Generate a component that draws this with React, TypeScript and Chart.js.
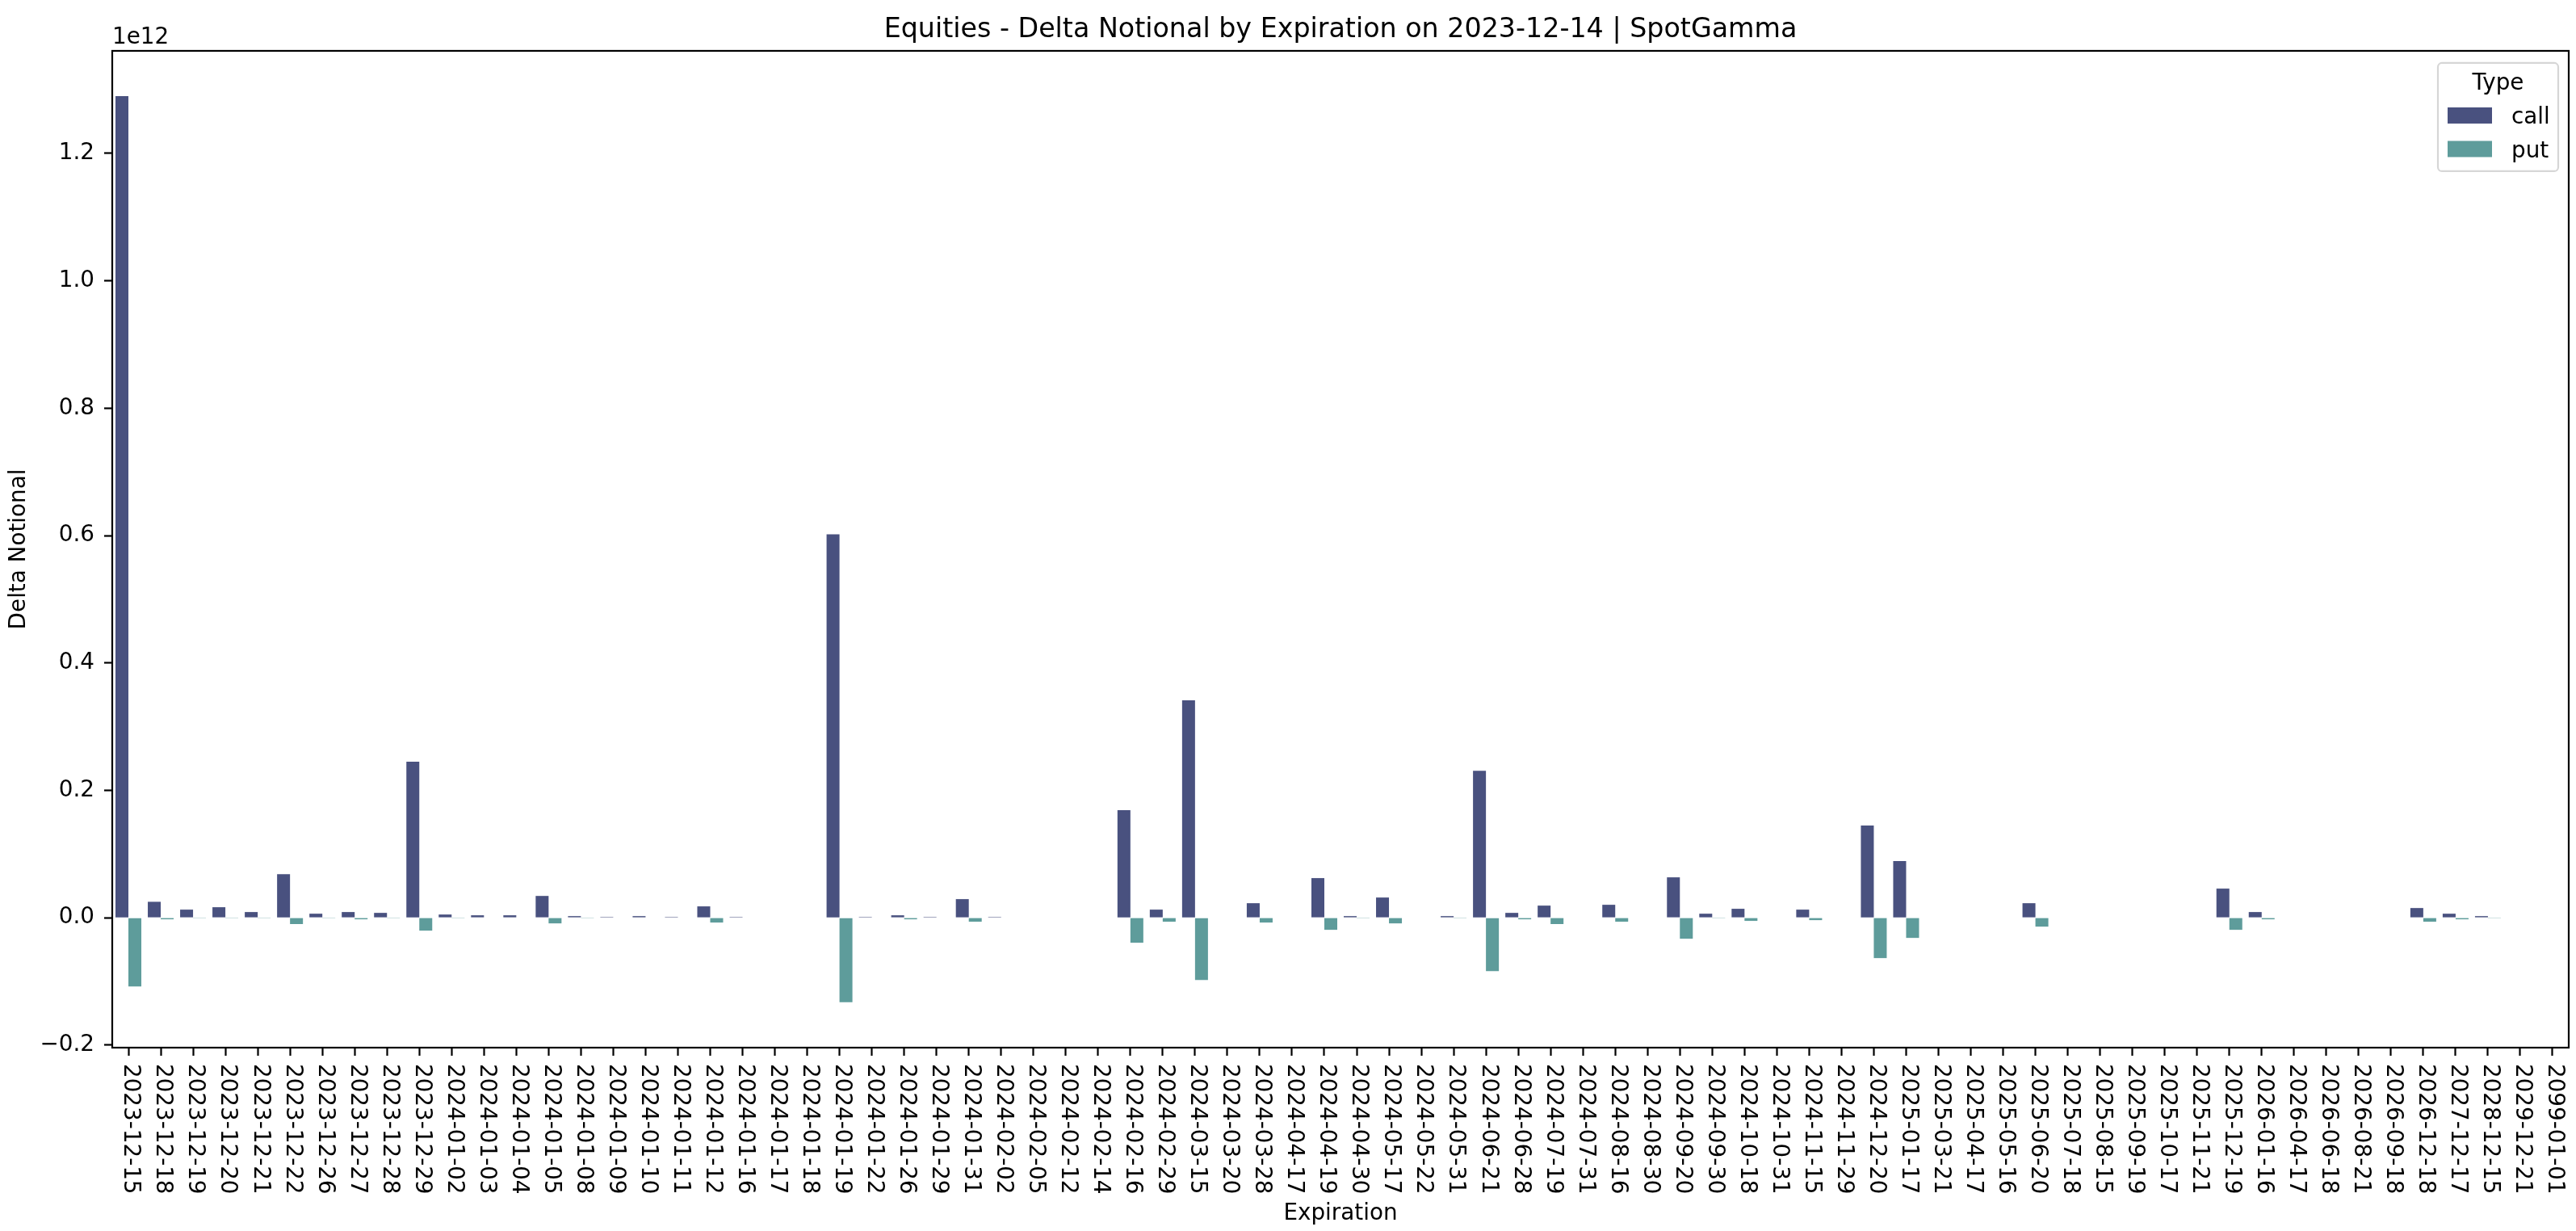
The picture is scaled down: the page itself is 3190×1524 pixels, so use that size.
import { useEffect, useRef } from "react";
import { Chart, ChartConfiguration, Plugin, registerables } from "chart.js";

Chart.register(...registerables);

// expiration dates on the category axis
const expirations = [
  "2023-12-15", "2023-12-18", "2023-12-19", "2023-12-20", "2023-12-21", "2023-12-22",
  "2023-12-26", "2023-12-27", "2023-12-28", "2023-12-29", "2024-01-02", "2024-01-03",
  "2024-01-04", "2024-01-05", "2024-01-08", "2024-01-09", "2024-01-10", "2024-01-11",
  "2024-01-12", "2024-01-16", "2024-01-17", "2024-01-18", "2024-01-19", "2024-01-22",
  "2024-01-26", "2024-01-29", "2024-01-31", "2024-02-02", "2024-02-05", "2024-02-12",
  "2024-02-14", "2024-02-16", "2024-02-29", "2024-03-15", "2024-03-20", "2024-03-28",
  "2024-04-17", "2024-04-19", "2024-04-30", "2024-05-17", "2024-05-22", "2024-05-31",
  "2024-06-21", "2024-06-28", "2024-07-19", "2024-07-31", "2024-08-16", "2024-08-30",
  "2024-09-20", "2024-09-30", "2024-10-18", "2024-10-31", "2024-11-15", "2024-11-29",
  "2024-12-20", "2025-01-17", "2025-03-21", "2025-04-17", "2025-05-16", "2025-06-20",
  "2025-07-18", "2025-08-15", "2025-09-19", "2025-10-17", "2025-11-21", "2025-12-19",
  "2026-01-16", "2026-04-17", "2026-06-18", "2026-08-21", "2026-09-18", "2026-12-18",
  "2027-12-17", "2028-12-15", "2029-12-21", "2099-01-01",
];

// delta notional, in units of 1e12
const callDelta = [
  1.29, 0.025, 0.0127, 0.0165, 0.0089, 0.0685,
  0.0063, 0.0089, 0.0076, 0.2448, 0.005, 0.0038,
  0.0038, 0.0342, 0.0025, 0.0013, 0.0025, 0.0013,
  0.0178, 0.0013, 0, 0, 0.602, 0.0013,
  0.0038, 0.0013, 0.0292, 0.0013, 0, 0,
  0, 0.1687, 0.0127, 0.3412, 0, 0.0228,
  0, 0.0622, 0.0025, 0.0317, 0, 0.0025,
  0.2308, 0.0076, 0.019, 0, 0.0203, 0,
  0.0634, 0.0063, 0.014, 0, 0.0127, 0,
  0.1446, 0.0888, 0, 0, 0, 0.0228,
  0, 0, 0, 0, 0, 0.0457,
  0.0089, 0, 0, 0, 0, 0.0152,
  0.0063, 0.0025, 0, 0,
];

const putDelta = [
  -0.1078, -0.0025, -0.001, -0.001, -0.001, -0.01,
  -0.001, -0.0025, -0.001, -0.0203, -0.001, 0,
  0, -0.0089, -0.001, 0, 0, 0,
  -0.0076, 0, 0, 0, -0.1328, 0,
  -0.0025, 0, -0.0063, 0, 0, 0,
  0, -0.0393, -0.0063, -0.0977, 0, -0.0076,
  0, -0.019, -0.001, -0.0089, 0, -0.001,
  -0.0837, -0.0025, -0.01, 0, -0.0063, 0,
  -0.033, -0.001, -0.005, 0, -0.0038, 0,
  -0.0634, -0.0317, 0, 0, 0, -0.014,
  0, 0, 0, 0, 0, -0.019,
  -0.0025, 0, 0, 0, 0, -0.0063,
  -0.0025, -0.001, 0, 0,
];

const yTicks = [-0.2, 0, 0.2, 0.4, 0.6, 0.8, 1.0, 1.2];
const yMin = -0.204;
const yMax = 1.361;
const SCALE = 1e12;

const CALL_COLOR = "#49517f";
const PUT_COLOR = "#5e9c9b";
const FONT = '"DejaVu Sans", sans-serif';
const LABEL_SIZE = 27.8;

// matplotlib-ish decorations: full frame, rotated date labels, offset text, legend box
const axesDecor: Plugin<"bar"> = {
  id: "axesDecor",
  afterDraw(chart) {
    const { ctx, chartArea: a } = chart;
    const xs = chart.scales.x;
    ctx.save();

    ctx.strokeStyle = "#000";
    ctx.lineWidth = 2.2;
    ctx.strokeRect(a.left, a.top, a.right - a.left, a.bottom - a.top);

    ctx.fillStyle = "#000";
    ctx.font = `${LABEL_SIZE}px ${FONT}`;
    ctx.textAlign = "left";
    ctx.textBaseline = "alphabetic";
    expirations.forEach((label, i) => {
      const x = xs.getPixelForValue(i);
      ctx.save();
      ctx.translate(x, a.bottom + 20);
      ctx.rotate(Math.PI / 2);
      ctx.fillText(label, 0, 4.6);
      ctx.restore();
    });

    ctx.fillText("1e12", a.left, 54);

    // legend
    const boxW = 149;
    const boxH = 134;
    const bx = a.right - 13 - boxW;
    const by = a.top + 15;
    ctx.beginPath();
    ctx.roundRect(bx, by, boxW, boxH, 5);
    ctx.fillStyle = "rgba(255,255,255,0.8)";
    ctx.fill();
    ctx.strokeStyle = "#d6d6d6";
    ctx.lineWidth = 2.2;
    ctx.stroke();

    ctx.fillStyle = "#000";
    ctx.textAlign = "center";
    ctx.fillText("Type", bx + boxW / 2, by + 33);

    ctx.textAlign = "left";
    chart.data.datasets.forEach((ds, k) => {
      const sy = by + 55 + k * 41.5;
      ctx.fillStyle = ds.backgroundColor as string;
      ctx.fillRect(bx + 12, sy, 55, 20);
      ctx.fillStyle = "#000";
      ctx.fillText(ds.label ?? "", bx + 91, sy + 20.5);
    });

    ctx.restore();
  },
};

export default function App() {
  const chartRef = useRef<HTMLCanvasElement>(null);
  const chartInstance = useRef<Chart | null>(null);

  useEffect(() => {
    if (!chartRef.current) return;
    const ctx = chartRef.current.getContext("2d");
    if (!ctx) return;

    if (chartInstance.current) {
      chartInstance.current.destroy();
    }

    const config: ChartConfiguration<"bar"> = {
      type: "bar",
      data: {
        labels: expirations,
        datasets: [
          {
            label: "call",
            data: callDelta.map((v) => v * SCALE),
            backgroundColor: CALL_COLOR,
            borderWidth: 0,
            categoryPercentage: 0.8,
            barPercentage: 1.0,
          },
          {
            label: "put",
            data: putDelta.map((v) => v * SCALE),
            backgroundColor: PUT_COLOR,
            borderWidth: 0,
            categoryPercentage: 0.8,
            barPercentage: 1.0,
          },
        ],
      },
      options: {
        responsive: false,
        animation: false,
        layout: { padding: { left: 0, right: 9, top: 0, bottom: 0 } },
        plugins: {
          legend: { display: false },
          tooltip: { enabled: false },
          title: {
            display: true,
            text: "Equities - Delta Notional by Expiration on 2023-12-14 | SpotGamma",
            color: "#000",
            fullSize: false,
            font: { family: FONT, size: 33.3, weight: "normal" },
            padding: { top: 17, bottom: 6 },
          },
        },
        scales: {
          x: {
            offset: true,
            grid: {
              offset: false,
              drawOnChartArea: false,
              drawTicks: true,
              tickLength: 10,
              tickColor: "#000",
              tickWidth: 2.2,
            },
            border: { display: false },
            ticks: { display: false, autoSkip: false },
            title: {
              display: true,
              text: "Expiration",
              color: "#000",
              font: { family: FONT, size: LABEL_SIZE },
              padding: { top: 0, bottom: 5 },
            },
            afterFit: (scale) => {
              scale.height = 227;
            },
          },
          y: {
            min: yMin * SCALE,
            max: yMax * SCALE,
            grid: {
              drawOnChartArea: false,
              drawTicks: true,
              tickLength: 10,
              tickColor: "#000",
              tickWidth: 2.2,
            },
            border: { display: false },
            afterBuildTicks: (scale) => {
              scale.ticks = yTicks.map((v) => ({ value: v * SCALE }));
            },
            ticks: {
              color: "#000",
              padding: 12,
              font: { family: FONT, size: LABEL_SIZE },
              callback: (value) => (Number(value) / SCALE).toFixed(1).replace("-", "\u2212"),
            },
            title: {
              display: true,
              text: "Delta Notional",
              color: "#000",
              font: { family: FONT, size: LABEL_SIZE },
              padding: { top: 7, bottom: 0 },
            },
            afterFit: (scale) => {
              scale.width = 139;
            },
          },
        },
      },
      plugins: [axesDecor],
    };

    chartInstance.current = new Chart(ctx, config);

    return () => {
      if (chartInstance.current) {
        chartInstance.current.destroy();
        chartInstance.current = null;
      }
    };
  }, []);

  return (
    <div style={{ position: "fixed", left: 0, top: 0, width: 3190, height: 1524, background: "#fff" }}>
      <canvas ref={chartRef} width={3190} height={1524} style={{ display: "block" }}></canvas>
    </div>
  );
}
